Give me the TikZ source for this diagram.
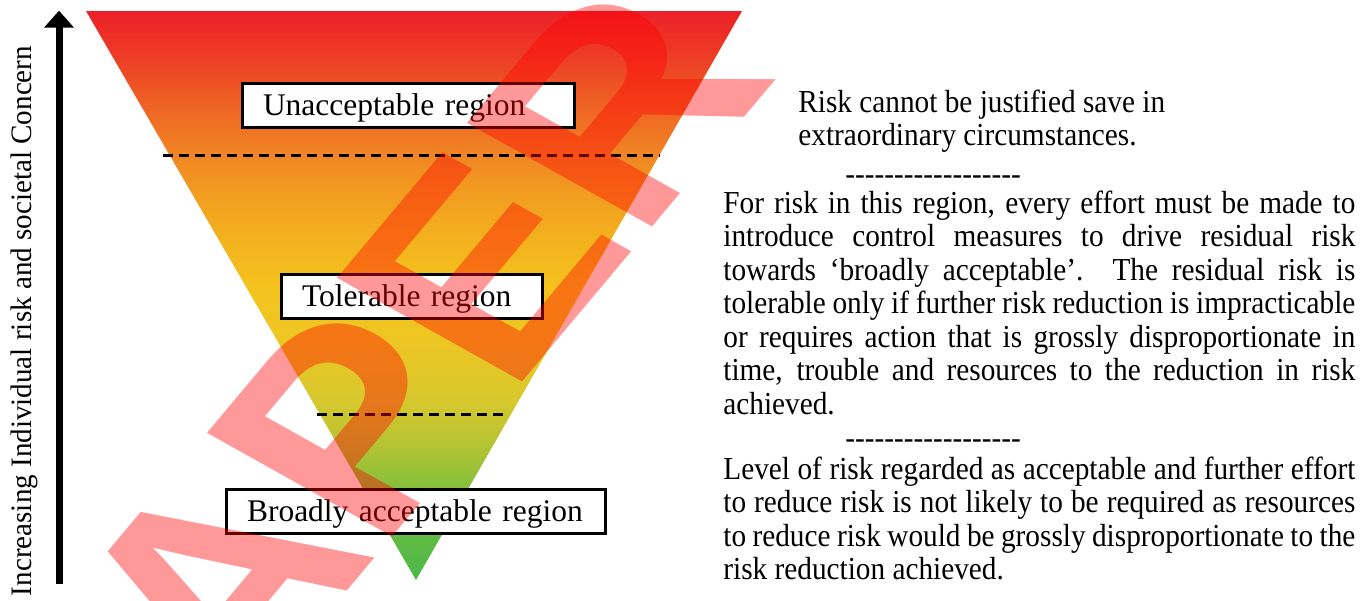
\documentclass[tikz,border=0pt]{standalone}
\usepackage{fontspec}
\usepackage{graphicx}
\setmainfont{Liberation Serif}
\newfontfamily\rtfont[FakeStretch=0.915]{Liberation Serif}
\newfontfamily\wmfont{Liberation Sans}
\usetikzlibrary{arrows.meta}
\definecolor{c1}{RGB}{76,183,72}
\definecolor{c2}{RGB}{95,187,68}
\definecolor{c3}{RGB}{130,192,60}
\definecolor{c4}{RGB}{185,196,50}
\definecolor{c5}{RGB}{215,200,45}
\definecolor{c6}{RGB}{238,198,35}
\definecolor{c7}{RGB}{244,196,30}
\definecolor{c8}{RGB}{243,178,30}
\definecolor{c9}{RGB}{242,155,32}
\definecolor{c10}{RGB}{240,130,35}
\definecolor{c11}{RGB}{238,95,36}
\definecolor{c12}{RGB}{237,60,38}
\definecolor{c13}{RGB}{236,32,39}
\pgfdeclareverticalshading{riskgrad}{100bp}{color(0bp)=(c1); color(25bp)=(c1); color(28.5bp)=(c2); color(32.9bp)=(c3); color(37.3bp)=(c4); color(40.8bp)=(c5); color(46.1bp)=(c6); color(50.5bp)=(c7); color(54.9bp)=(c8); color(59.3bp)=(c9); color(62.8bp)=(c10); color(67.2bp)=(c11); color(71.1bp)=(c12); color(75bp)=(c13); color(100bp)=(c13)}
\newcommand\hyph{\mbox{-}}
\newcommand\dashrow{\hyph\hyph\hyph\hyph\hyph\hyph\hyph\hyph\hyph\hyph\hyph\hyph\hyph\hyph\hyph\hyph\hyph\hyph}
\newcommand\jline[1]{\makebox[316pt][s]{#1}}
\tikzset{
  regbox/.style={draw=black, line width=1.5pt, fill=white, minimum height=22pt,
    inner ysep=0pt, inner xsep=10.25pt, align=left,
    font=\fontsize{15.75pt}{17pt}\selectfont, text height=10.4pt, text depth=0pt},
  dashline/.style={line width=1.5pt, dash pattern=on 5pt off 3pt},
  rline/.style={anchor=base west, inner sep=0pt, font={\rtfont\fontsize{16pt}{16.75pt}\selectfont}},
  uparrow/.style={line width=3.5pt, -{Triangle[width=14.5pt,length=8.5pt]}},
  watermark/.style={rotate=50, xslant=-0.19, anchor=base, inner sep=0pt, text=red, opacity=0.4,
    font={\wmfont\bfseries\fontsize{151.5pt}{160pt}\selectfont}}
}
\begin{document}
\begin{tikzpicture}[x=0.5pt,y=-0.5pt]
\useasboundingbox (0,0) rectangle (1370,600);
% funnel
\coordinate (tl) at (86,11);
\coordinate (tr) at (742,11);
\coordinate (ap) at (416,580);
\shade[shading=riskgrad] (tl) -- (tr) -- (ap) -- cycle;
% dashed boundaries
\coordinate (d1a) at (163,155);
\coordinate (d1b) at (660,155);
\coordinate (d2a) at (317,414);
\coordinate (d2b) at (506,414);
\draw[dashline] (d1a) -- (d1b);
\draw[dashline] (d2a) -- (d2b);
% region boxes
\node[regbox, text width=145.5pt] (ua) at (408.5,105.5) {Unacceptable region};
\node[regbox, text width=110pt] (tol) at (412,296.5) {Tolerable region};
\node[regbox, text width=169pt] (ba) at (416,511) {Broadly acceptable region};
% axis arrow
\coordinate (abot) at (59,584);
\coordinate (atop) at (59,10.7);
\draw[uparrow] (abot) -- (atop);
\node[rotate=90, anchor=base, inner sep=0pt] (vl) at (31,321)
  {\resizebox{275pt}{10.3pt}{Increasing Individual risk and societal Concern}};
% right-hand text
\node[rline] (p1a) at (798,112) {Risk cannot be justified save in};
\node[rline] (p1b) at (798,145.5) {extraordinary circumstances.};
\node[rline] (s1) at (845,184) {\dashrow};
\node[rline] (p2a) at (723,213) {\jline{For risk in this region, every effort must be made to}};
\node[rline] (p2b) at (723,246.5) {\jline{introduce control measures to drive residual risk}};
\node[rline] (p2c) at (723,280) {\jline{towards ‘broadly acceptable’. The residual risk is}};
\node[rline] (p2d) at (723,313.5) {\jline{tolerable only if further risk reduction is impracticable}};
\node[rline] (p2e) at (723,347) {\jline{or requires action that is grossly disproportionate in}};
\node[rline] (p2f) at (723,380.5) {\jline{time, trouble and resources to the reduction in risk}};
\node[rline] (p2g) at (723,414) {achieved.};
\node[rline] (s2) at (845,448) {\dashrow};
\node[rline] (p3a) at (723,479) {\jline{Level of risk regarded as acceptable and further effort}};
\node[rline] (p3b) at (723,512.5) {\jline{to reduce risk is not likely to be required as resources}};
\node[rline] (p3c) at (723,546) {\jline{to reduce risk would be grossly disproportionate to the}};
\node[rline] (p3d) at (723,579.5) {risk reduction achieved.};
% watermark
\node[watermark] (wm) at (452,466) {PAPER};
\end{tikzpicture}
\end{document}
